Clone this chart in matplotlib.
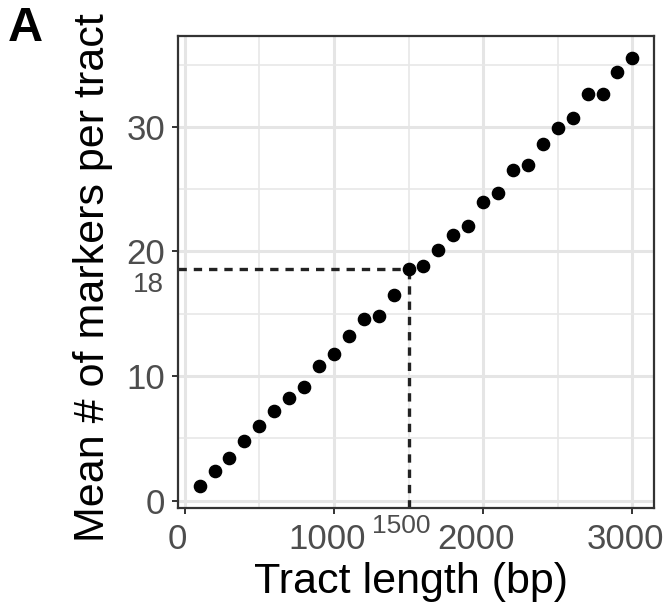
# Mean number of markers per tract vs tract length
import numpy as np
import matplotlib
matplotlib.use('Agg')
import matplotlib.pyplot as plt
from matplotlib.ticker import MultipleLocator
from matplotlib.transforms import ScaledTranslation

plt.rcParams['font.family'] = ['Liberation Sans', 'DejaVu Sans']
plt.rcParams['lines.scale_dashes'] = False

# Data
tract_length = [100, 200, 300, 400, 500, 600, 700, 800, 900, 1000,
                1100, 1200, 1300, 1400, 1500, 1600, 1700, 1800, 1900, 2000,
                2100, 2200, 2300, 2400, 2500, 2600, 2700, 2800, 2900, 3000]
mean_markers = [1.2, 2.4, 3.4, 4.8, 6.0, 7.2, 8.2, 9.1, 10.8, 11.8,
                13.2, 14.6, 14.8, 16.5, 18.6, 18.8, 20.1, 21.3, 22.0, 24.0,
                24.7, 26.5, 26.9, 28.6, 29.9, 30.7, 32.6, 32.6, 34.4, 35.5]
x_ticks = [0, 1000, 2000, 3000]
y_ticks = [0, 10, 20, 30]
cut_x = 1500
cut_y = 18.6

fig = plt.figure(figsize=(6.64, 6.08), dpi=100)
ax = fig.add_axes([0.268, 0.1645, 0.717, 0.7765])

x_lo, x_hi = -45, 3145
y_lo, y_hi = -0.6, 37.3
ax.set_xlim(x_lo, x_hi)
ax.set_ylim(y_lo, y_hi)

# grid like theme_bw
ax.set_xticks(x_ticks)
ax.set_yticks(y_ticks)
ax.xaxis.set_minor_locator(MultipleLocator(500))
ax.yaxis.set_minor_locator(MultipleLocator(5))
ax.grid(True, which='major', color='#E5E5E5', linewidth=2.2)
ax.grid(True, which='minor', color='#E8E8E8', linewidth=1.2)
ax.tick_params(which='minor', length=0)
ax.set_axisbelow(True)

# dashed guides to the 1500 bp point
ax.plot([x_lo, cut_x], [cut_y, cut_y], color='#222222', linewidth=2.4,
        dashes=(6, 5), zorder=2)
ax.plot([cut_x, cut_x], [y_lo, cut_y], color='#222222', linewidth=2.4,
        dashes=(6, 5), zorder=2)

ax.plot(tract_length, mean_markers, 'o', color='black', markersize=8.8, zorder=3)

for side in ax.spines.values():
    side.set_color('#333333')
    side.set_linewidth(1.6)

ax.tick_params(which='major', length=4, width=1.4, color='#333333',
               labelsize=25, labelcolor='#4D4D4D')
ax.tick_params(axis='x', pad=7)
ax.tick_params(axis='y', pad=5)

# nudge x tick labels slightly left so "3000" stays inside the figure
shift = ScaledTranslation(-7 / 100, 0, fig.dpi_scale_trans)
for lab in ax.get_xticklabels():
    lab.set_transform(lab.get_transform() + shift)

ax.set_xlabel('Tract length (bp)', fontsize=31, color='black', labelpad=4)
ax.set_ylabel('Mean # of markers per tract', fontsize=31, color='black', labelpad=10)
ax.xaxis.label.set_x(0.49)
ax.yaxis.label.set_y(0.489)

# annotation labels
ax.annotate('18', xy=(0, cut_y), xycoords=('axes fraction', 'data'),
            xytext=(-10, -2), textcoords='offset points',
            ha='right', va='top', fontsize=20, color='#4D4D4D',
            annotation_clip=False)
ax.annotate('1500', xy=(cut_x, 0), xycoords=('data', 'axes fraction'),
            xytext=(-5, -4), textcoords='offset points',
            ha='center', va='top', fontsize=19, color='#4D4D4D',
            annotation_clip=False)

fig.text(0.012, 0.99, 'A', fontsize=35, fontweight='bold', va='top', ha='left')

fig.savefig('out.png', dpi=100)
